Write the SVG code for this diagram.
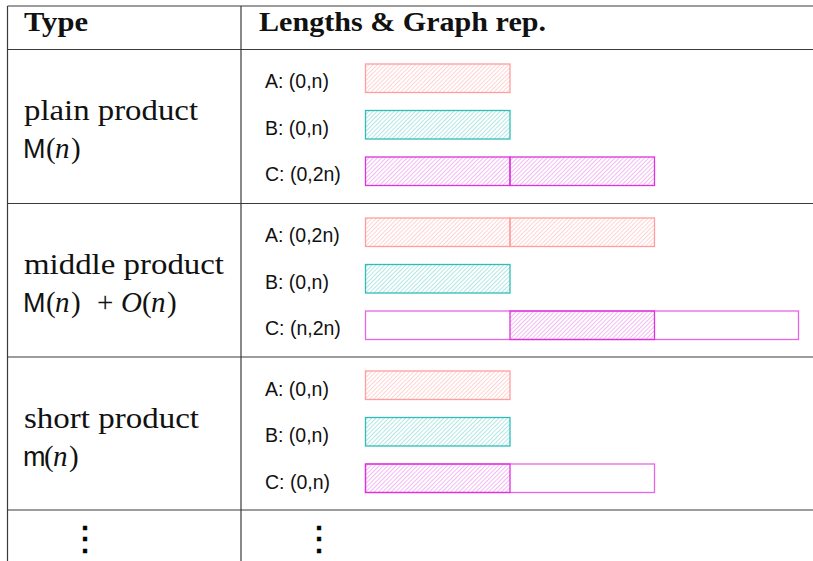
<svg xmlns="http://www.w3.org/2000/svg" width="813" height="561" viewBox="0 0 813 561">
<style>
.grid{stroke:#3a3a3a;stroke-width:1.2;fill:none}
.hd{font-family:"Liberation Serif",serif;font-weight:bold;font-size:28px;fill:#111}
.tp{font-family:"Liberation Serif",serif;font-size:29px;fill:#111}
.sf{font-family:"Liberation Sans",sans-serif;font-size:27px}
.it{font-style:italic}
.lb{font-family:"Liberation Sans",Arial,sans-serif;font-size:19.5px;fill:#111}
.a{stroke:#ff9e9e;stroke-width:1.3;fill:url(#hA)}
.b{stroke:#2ebdb7;stroke-width:1.3;fill:url(#hB)}
.c{stroke:#dd33dd;stroke-width:1.3;fill:url(#hC)}
.ce{stroke:#e766e7;stroke-width:1.3;fill:#fff}
.dots{font-family:"DejaVu Serif",serif;font-size:34px;fill:#000;stroke:#000;stroke-width:0.7}
</style>
<defs>
<pattern id="hA" width="3" height="3" patternUnits="userSpaceOnUse" patternTransform="rotate(45)"><line x1="0" y1="0" x2="0" y2="3" stroke="#ffaaaa" stroke-width="1"/></pattern>
<pattern id="hB" width="3" height="3" patternUnits="userSpaceOnUse" patternTransform="rotate(45)"><line x1="0" y1="0" x2="0" y2="3" stroke="#66cfcb" stroke-width="1"/></pattern>
<pattern id="hC" width="3" height="3" patternUnits="userSpaceOnUse" patternTransform="rotate(45)"><line x1="0" y1="0" x2="0" y2="3" stroke="#e877e8" stroke-width="1"/></pattern>
</defs>
<rect width="813" height="561" fill="#fff"/>
<g id="table-grid" class="grid">
<line x1="7.5" y1="6" x2="813" y2="6"/>
<line x1="7.5" y1="49.5" x2="813" y2="49.5"/>
<line x1="7.5" y1="203.5" x2="813" y2="203.5"/>
<line x1="7.5" y1="357" x2="813" y2="357"/>
<line x1="7.5" y1="510" x2="813" y2="510"/>
<line x1="7.5" y1="6" x2="7.5" y2="561"/>
<line x1="241" y1="6" x2="241" y2="561"/>
</g>
<g id="header">
<text class="hd" x="24" y="31" textLength="64" lengthAdjust="spacingAndGlyphs">Type</text>
<text class="hd" x="259" y="31" textLength="287" lengthAdjust="spacingAndGlyphs">Lengths &amp; Graph rep.</text>
</g>
<g id="row-plain">
<text class="tp" x="24" y="120" textLength="174" lengthAdjust="spacingAndGlyphs">plain product</text>
<text class="tp" y="158"><tspan class="sf" x="23">M</tspan><tspan x="46">(</tspan><tspan class="it" x="55">n</tspan><tspan x="71">)</tspan></text>
<text class="lb" x="265" y="88">A: (0,n)</text>
<text class="lb" x="265" y="134.5">B: (0,n)</text>
<text class="lb" x="265" y="181">C: (0,2n)</text>
<rect class="a" x="365.5" y="64" width="144.5" height="28.5"/>
<rect class="b" x="365.5" y="110.5" width="144.5" height="28.5"/>
<rect class="c" x="365.5" y="157" width="144.5" height="28.5"/>
<rect class="c" x="510" y="157" width="144.5" height="28.5"/>
</g>
<g id="row-middle">
<text class="tp" x="24" y="274" textLength="200" lengthAdjust="spacingAndGlyphs">middle product</text>
<text class="tp" y="312"><tspan class="sf" x="23">M</tspan><tspan x="46">(</tspan><tspan class="it" x="55">n</tspan><tspan x="71">)</tspan><tspan x="97">+</tspan><tspan class="it" x="121">O</tspan><tspan x="142">(</tspan><tspan class="it" x="151">n</tspan><tspan x="167">)</tspan></text>
<text class="lb" x="265" y="242">A: (0,2n)</text>
<text class="lb" x="265" y="288.5">B: (0,n)</text>
<text class="lb" x="265" y="335">C: (n,2n)</text>
<rect class="a" x="365.5" y="218" width="144.5" height="28.5"/>
<rect class="a" x="510" y="218" width="144.5" height="28.5"/>
<rect class="b" x="365.5" y="264.5" width="144.5" height="28.5"/>
<rect class="ce" x="365.5" y="311" width="433" height="28.5"/>
<rect class="c" x="510" y="311" width="144.5" height="28.5"/>
</g>
<g id="row-short">
<text class="tp" x="24" y="428" textLength="175" lengthAdjust="spacingAndGlyphs">short product</text>
<text class="tp" y="466"><tspan class="sf" x="23">m</tspan><tspan x="44">(</tspan><tspan class="it" x="53">n</tspan><tspan x="69">)</tspan></text>
<text class="lb" x="265" y="395.5">A: (0,n)</text>
<text class="lb" x="265" y="442">B: (0,n)</text>
<text class="lb" x="265" y="488.5">C: (0,n)</text>
<rect class="a" x="365.5" y="371" width="144.5" height="28.5"/>
<rect class="b" x="365.5" y="417.5" width="144.5" height="28.5"/>
<rect class="ce" x="365.5" y="464" width="289" height="28.5"/>
<rect class="c" x="365.5" y="464" width="144.5" height="28.5"/>
</g>
<g id="row-more">
<text class="dots" x="85" y="550" text-anchor="middle">⋮</text>
<text class="dots" x="319" y="550" text-anchor="middle">⋮</text>
</g>
</svg>
